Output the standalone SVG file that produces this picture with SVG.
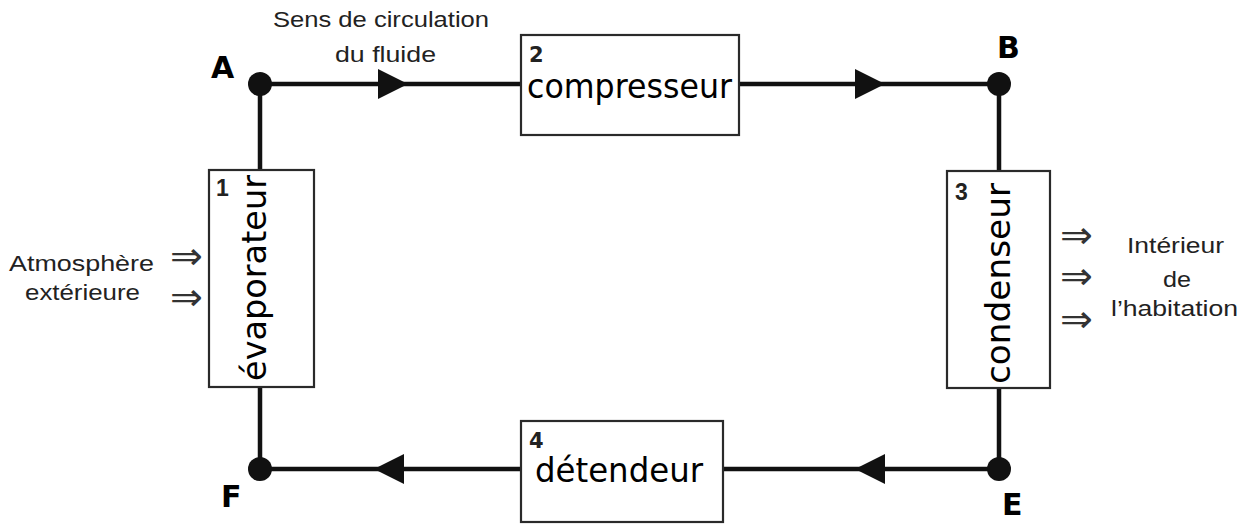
<svg xmlns="http://www.w3.org/2000/svg" width="1254" height="527" viewBox="0 0 1254 527">
<style>
.box{fill:#fff;stroke:#2a2a2a;stroke-width:2.2}
.line{stroke:#111;stroke-width:4.5;fill:none}
.dot{fill:#111}
.tri{fill:#111}
.lbl{font-family:"DejaVu Sans",sans-serif;font-weight:bold;font-size:30px;fill:#000}
.big{font-family:"DejaVu Sans",sans-serif;font-size:34px;fill:#000}
.numd{font-family:"DejaVu Sans",sans-serif;font-weight:bold;font-size:21px;fill:#222}
.numl{font-family:"Liberation Sans",Arial,sans-serif;font-weight:bold;font-size:23px;fill:#222}
.txt{font-family:"Liberation Sans",Arial,sans-serif;font-size:22px;fill:#222}
.arr{font-family:"DejaVu Sans",sans-serif;font-weight:200;font-size:38px;fill:#333}
</style>
<rect width="1254" height="527" fill="#fff"/>
<g id="connectors">
<path class="line" d="M260,84 H522 M739,84 H999 V171 M999,388 V469 H723 M521,469 H260 V387 M260,170 V84"/>
<polygon class="tri" points="378,69 408,84 378,99"/>
<polygon class="tri" points="855,69 885,84 855,99"/>
<polygon class="tri" points="885,454 855,469 885,484"/>
<polygon class="tri" points="404,454 374,469 404,484"/>
</g>
<g id="pointA"><circle class="dot" cx="260" cy="84" r="12"/><text class="lbl" x="211" y="78">A</text></g>
<g id="pointB"><circle class="dot" cx="999" cy="84" r="12"/><text class="lbl" x="997" y="58">B</text></g>
<g id="pointE"><circle class="dot" cx="999" cy="469" r="12"/><text class="lbl" x="1002" y="515">E</text></g>
<g id="pointF"><circle class="dot" cx="260" cy="469" r="12"/><text class="lbl" x="221" y="507">F</text></g>
<g id="flow-label">
<text class="txt" x="273" y="27" textLength="216" lengthAdjust="spacingAndGlyphs">Sens de circulation</text>
<text class="txt" x="335" y="62" textLength="101" lengthAdjust="spacingAndGlyphs">du fluide</text>
</g>
<g id="compresseur">
<rect class="box" x="521" y="35" width="218" height="100"/>
<text class="numd" x="529" y="62">2</text>
<text class="big" x="527" y="98" textLength="205" lengthAdjust="spacingAndGlyphs">compresseur</text>
</g>
<g id="evaporateur">
<rect class="box" x="209" y="170" width="105" height="217"/>
<text class="numl" x="216" y="196">1</text>
<text class="big" transform="translate(266,381) rotate(-90)" x="0" y="0" textLength="206" lengthAdjust="spacingAndGlyphs">évaporateur</text>
</g>
<g id="condenseur">
<rect class="box" x="947" y="171" width="103" height="217"/>
<text class="numl" x="955" y="200">3</text>
<text class="big" transform="translate(1010,384) rotate(-90)" x="0" y="0" textLength="201" lengthAdjust="spacingAndGlyphs">condenseur</text>
</g>
<g id="detendeur">
<rect class="box" x="521" y="421" width="202" height="101"/>
<text class="numd" x="529" y="448">4</text>
<text class="big" x="535" y="482" textLength="168" lengthAdjust="spacingAndGlyphs">détendeur</text>
</g>
<g id="exterieur">
<text class="txt" x="9" y="271" textLength="145" lengthAdjust="spacingAndGlyphs">Atmosphère</text>
<text class="txt" x="25" y="300" textLength="115" lengthAdjust="spacingAndGlyphs">extérieure</text>
<text class="arr" x="170" y="269" textLength="33" lengthAdjust="spacingAndGlyphs">⇒</text>
<text class="arr" x="170" y="310" textLength="33" lengthAdjust="spacingAndGlyphs">⇒</text>
</g>
<g id="interieur">
<text class="arr" x="1060" y="248" textLength="33" lengthAdjust="spacingAndGlyphs">⇒</text>
<text class="arr" x="1060" y="289" textLength="33" lengthAdjust="spacingAndGlyphs">⇒</text>
<text class="arr" x="1060" y="332" textLength="33" lengthAdjust="spacingAndGlyphs">⇒</text>
<text class="txt" x="1127" y="253" textLength="97" lengthAdjust="spacingAndGlyphs">Intérieur</text>
<text class="txt" x="1163" y="287" textLength="28" lengthAdjust="spacingAndGlyphs">de</text>
<text class="txt" x="1111" y="316" textLength="127" lengthAdjust="spacingAndGlyphs">l’habitation</text>
</g>
</svg>
